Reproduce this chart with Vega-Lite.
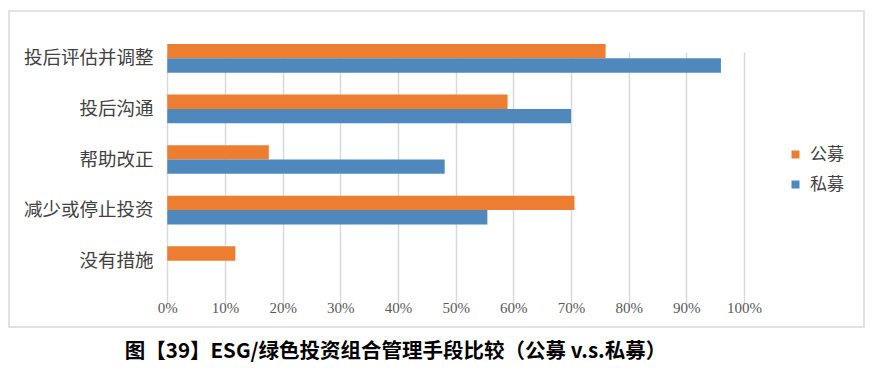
{
  "$schema": "https://vega.github.io/schema/vega-lite/v6.json",
  "width": 855,
  "height": 316,
  "autosize": {"type": "none"},
  "padding": {"left": 9, "top": 11, "right": 20, "bottom": 51},
  "background": "white",
  "title": {
    "text": "图【39】ESG/绿色投资组合管理手段比较（公募 v.s.私募）",
    "orient": "bottom",
    "anchor": "middle",
    "dx": -41,
    "offset": 15,
    "font": "Noto Sans CJK SC",
    "fontSize": 20.5,
    "fontWeight": "bold",
    "color": "#000000"
  },
  "data": {
    "values": [
      {"category": "投后评估并调整", "type": "公募", "value": 0.76},
      {"category": "投后评估并调整", "type": "私募", "value": 0.96},
      {"category": "投后沟通", "type": "公募", "value": 0.59},
      {"category": "投后沟通", "type": "私募", "value": 0.70},
      {"category": "帮助改正", "type": "公募", "value": 0.176},
      {"category": "帮助改正", "type": "私募", "value": 0.481},
      {"category": "减少或停止投资", "type": "公募", "value": 0.706},
      {"category": "减少或停止投资", "type": "私募", "value": 0.555},
      {"category": "没有措施", "type": "公募", "value": 0.118},
      {"category": "没有措施", "type": "私募", "value": 0}
    ]
  },
  "mark": {"type": "bar"},
  "encoding": {
    "y": {
      "field": "category",
      "type": "nominal",
      "sort": ["投后评估并调整", "投后沟通", "帮助改正", "减少或停止投资", "没有措施"],
      "scale": {"range": [22, 275], "paddingInner": 0.433, "paddingOuter": 0.217},
      "axis": {
        "title": null,
        "domain": false,
        "ticks": false,
        "grid": false,
        "offset": -150,
        "labelPadding": 6,
        "labelFont": "Noto Sans CJK SC",
        "labelFontSize": 18.5,
        "labelColor": "#404040",
        "labelLimit": 300
      }
    },
    "yOffset": {
      "field": "type",
      "type": "nominal",
      "sort": ["公募", "私募"],
      "scale": {"paddingInner": 0, "paddingOuter": 0}
    },
    "x": {
      "field": "value",
      "type": "quantitative",
      "scale": {"domain": [0, 1], "range": [158.3, 735], "nice": false},
      "axis": {
        "title": null,
        "domain": false,
        "ticks": false,
        "grid": true,
        "gridColor": "#D9D9D9",
        "gridWidth": 1.5,
        "values": [0, 0.1, 0.2, 0.3, 0.4, 0.5, 0.6, 0.7, 0.8, 0.9, 1],
        "format": ".0%",
        "offset": -31,
        "labelPadding": 4,
        "labelFlush": false,
        "labelFont": "Liberation Serif",
        "labelFontSize": 15,
        "labelColor": "#595959"
      }
    },
    "color": {
      "field": "type",
      "type": "nominal",
      "scale": {"domain": ["公募", "私募"], "range": ["#ED7D31", "#4F88BD"]},
      "legend": {
        "title": null,
        "orient": "none",
        "legendX": 778,
        "legendY": 135,
        "symbolType": "square",
        "symbolSize": 64,
        "symbolStrokeWidth": 0,
        "labelFont": "Noto Sans CJK SC",
        "labelFontSize": 17,
        "labelColor": "#404040",
        "rowPadding": 12,
        "labelOffset": 6,
        "padding": 0
      }
    }
  },
  "config": {
    "view": {"stroke": "#D9D9D9", "strokeWidth": 1.5}
  }
}
